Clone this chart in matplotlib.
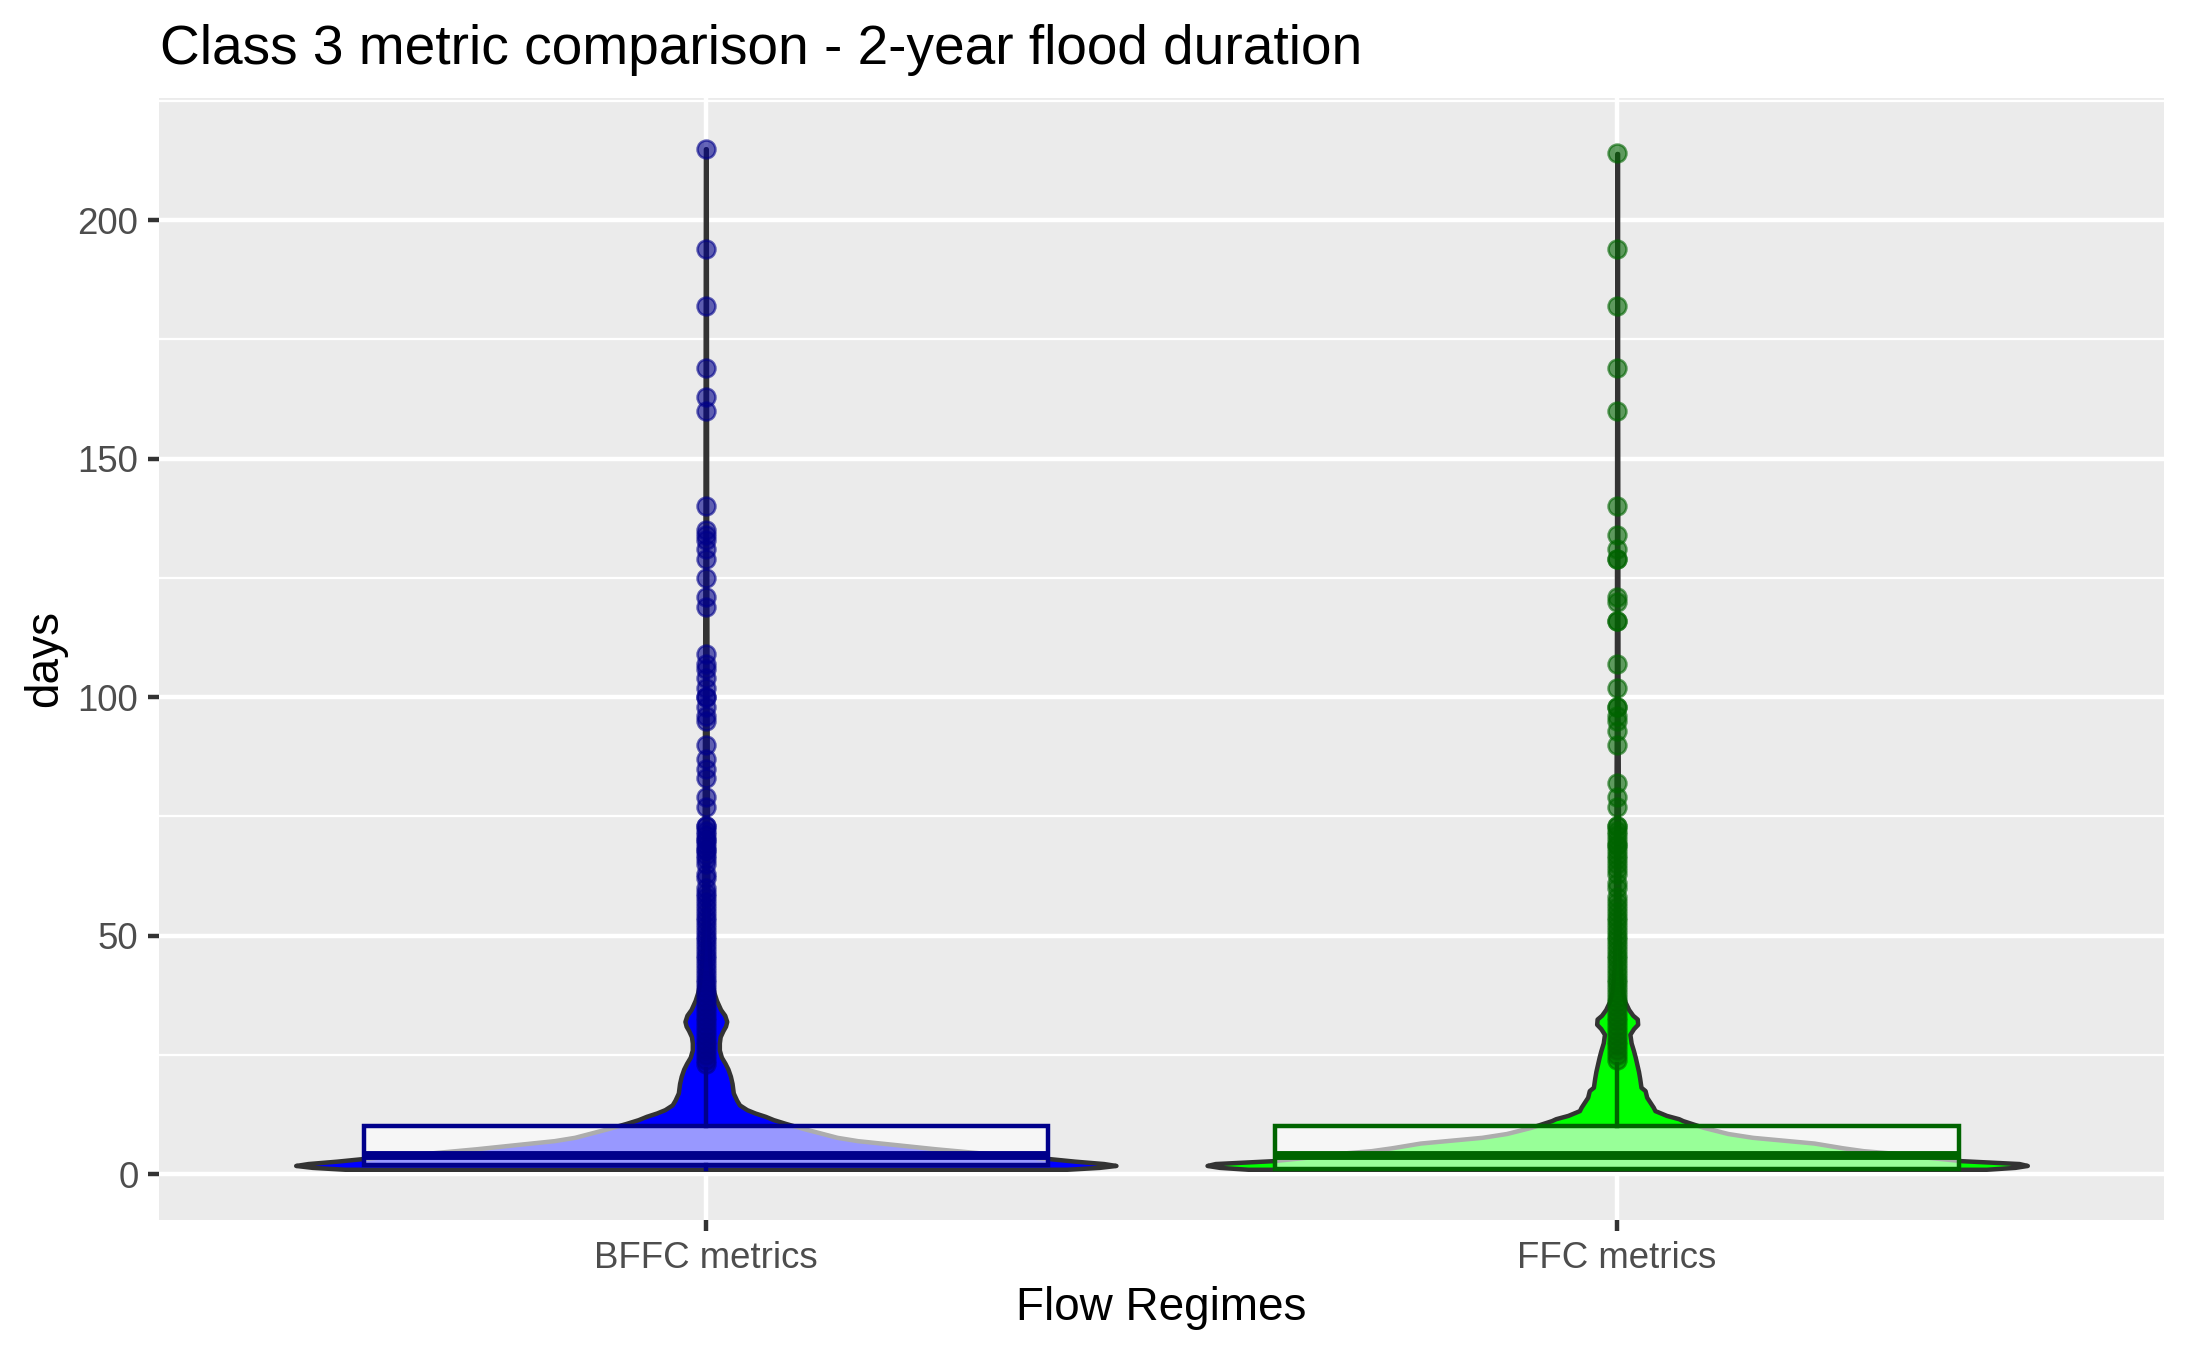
import matplotlib

matplotlib.use("Agg")
import matplotlib.pyplot as plt

plt.rcParams["font.family"] = ["Liberation Sans", "DejaVu Sans"]

# categories and styling per group
groups = ["BFFC metrics", "FFC metrics"]
violin_fill = ["#0000FF", "#00FF00"]
box_color = ["#00008B", "#006400"]

# violin outline: days and relative density (max = 1)
bffc_density_days = [1, 1.4, 1.8, 2.2, 2.7, 3.3, 4.2, 5.3, 6.2, 7.0, 7.7, 8.6, 9.5, 10.6,
                     11.4, 12.1, 12.8, 13.5, 14.5, 15.5, 17, 19, 20.5, 22, 23.2, 24.5, 26,
                     27.5, 28.8, 30.1, 31, 32, 33.3, 34.5, 36.4, 38, 40, 44, 50, 60, 75,
                     100, 140, 180, 215]
bffc_density = [0.88, 0.96, 1.0, 0.97, 0.9, 0.83, 0.7, 0.56, 0.46, 0.37, 0.32, 0.28, 0.24,
                0.195, 0.165, 0.145, 0.12, 0.1, 0.082, 0.075, 0.067, 0.064, 0.06, 0.054,
                0.047, 0.038, 0.033, 0.033, 0.035, 0.042, 0.048, 0.051, 0.046, 0.036,
                0.026, 0.02, 0.015, 0.01, 0.007, 0.005, 0.004, 0.003, 0.002, 0.0015, 0.001]

ffc_density_days = [1, 1.4, 1.8, 2.2, 2.8, 3.5, 4.4, 4.9, 5.5, 6.5, 7.7, 8.5, 9.8, 11.2,
                    11.6, 12.3, 13.3, 14, 16.1, 17.5, 18.2, 20, 21.5, 23, 24.5, 25.8, 27.5,
                    29.3, 30.5, 31.4, 32.5, 33.3, 34.5, 36.3, 38, 40, 44, 50, 60, 75, 100,
                    140, 180, 214]
ffc_density = [0.9, 0.97, 1.0, 0.98, 0.84, 0.76, 0.67, 0.6, 0.55, 0.48, 0.33, 0.27, 0.21,
               0.16, 0.15, 0.12, 0.092, 0.088, 0.072, 0.068, 0.058, 0.055, 0.052, 0.048,
               0.044, 0.04, 0.034, 0.031, 0.04, 0.05, 0.049, 0.038, 0.028, 0.018, 0.013,
               0.01, 0.007, 0.005, 0.004, 0.003, 0.002, 0.0015, 0.001, 0.001]

# boxplot summaries
bffc_box = {"whislo": 1, "q1": 2, "med": 4, "q3": 10, "whishi": 22}
ffc_box = {"whislo": 1, "q1": 1, "med": 4, "q3": 10, "whishi": 23}

bffc_outliers = [215, 194, 182, 169, 163, 160, 140, 135, 134, 133, 131, 129, 125, 121, 119,
                 109, 107, 106, 104, 102, 100, 100, 98, 96, 95, 90, 87, 85, 83, 79, 77,
                 73, 73, 72, 71, 70, 70, 69, 68, 68, 67, 66, 65, 63, 62, 60, 59, 58, 57,
                 56, 55, 54, 53, 52, 51, 50, 49, 48, 47, 46, 45, 44, 43, 42, 41, 40, 39,
                 38, 37, 36, 35, 34, 33, 32, 31, 30, 29, 28, 27, 26, 25, 24, 23]
ffc_outliers = [214, 194, 182, 169, 160, 140, 134, 131, 129, 129, 121, 120, 116, 116, 107,
                102, 98, 98, 96, 95, 93, 90, 82, 79, 77, 73, 73, 72, 71, 70, 69, 69, 68,
                67, 66, 65, 64, 63, 61, 60, 58, 57, 56, 55, 54, 53, 52, 51, 50, 49, 48,
                47, 46, 45, 44, 43, 42, 41, 40, 39, 38, 37, 36, 35, 34, 33, 32, 31, 30,
                29, 28, 27, 26, 25, 24]

title = "Class 3 metric comparison - 2-year flood duration"
x_title = "Flow Regimes"
y_title = "days"

LW = 0.5 * 72.27 / 25.4 * 0.75  # ggplot linewidth 0.5 in points

W, H, DPI = 2187, 1351, 300
fig = plt.figure(figsize=(W / DPI, H / DPI), dpi=DPI)
left, right, top, bottom = 159 / W, 2164 / W, 1 - 97.7 / H, 1 - 1220.3 / H
ax = fig.add_axes([left, bottom, right - left, top - bottom])

densities = [(bffc_density_days, bffc_density), (ffc_density_days, ffc_density)]
boxes = [(bffc_box, bffc_outliers), (ffc_box, ffc_outliers)]
dmax = max(max(d) for _, d in densities)

for i, ((days, dens), (stats, fliers)) in enumerate(zip(densities, boxes)):
    pos = i + 1
    half = [0.45 * d / dmax for d in dens]
    ax.fill_betweenx(days, [pos - h for h in half], [pos + h for h in half],
                     facecolor=violin_fill[i], edgecolor="#333333", linewidth=LW,
                     joinstyle="round", zorder=2)
    st = dict(stats)
    st["fliers"] = fliers
    ax.bxp([st], positions=[pos], widths=0.75, patch_artist=True, showcaps=False,
           manage_ticks=False, zorder=3,
           boxprops=dict(facecolor=(1, 1, 1, 0.6), edgecolor=box_color[i], linewidth=LW),
           medianprops=dict(color=box_color[i], linewidth=2 * LW, solid_capstyle="butt"),
           whiskerprops=dict(color=box_color[i], linewidth=LW),
           flierprops=dict(marker="o", markerfacecolor=box_color[i],
                           markeredgecolor=box_color[i], markersize=4.3,
                           markeredgewidth=0.6, alpha=0.6, linestyle="none"))

all_vals = bffc_density_days + ffc_density_days + bffc_outliers + ffc_outliers
lo, hi = min(all_vals), max(all_vals)
pad = 0.05 * (hi - lo)
ax.set_ylim(lo - pad, hi + pad)
ax.set_xlim(0.4, 2.6)

ax.set_facecolor("#EBEBEB")
for s in ax.spines.values():
    s.set_visible(False)
ax.set_axisbelow(True)
ax.set_xticks([1, 2])
ax.set_xticklabels(groups)
ax.set_yticks([0, 50, 100, 150, 200])
ax.set_yticks([25, 75, 125, 175, 225], minor=True)
ax.grid(which="major", color="white", linewidth=LW)
ax.grid(which="minor", axis="y", color="white", linewidth=LW / 2)
ax.tick_params(which="major", length=2.75, width=LW, color="#333333",
               labelcolor="#4D4D4D", labelsize=8.8, pad=2.2)
ax.tick_params(which="minor", length=0)

fig.text(160 / W, 1 - 64 / H, title, fontsize=13.2, ha="left", va="baseline")
fig.text((left + right) / 2, 1 - 1320 / H, x_title, fontsize=11, ha="center", va="baseline")
fig.text(45 / W, (top + bottom) / 2, y_title, fontsize=11, rotation=90,
         ha="center", va="center")

fig.savefig("out.png", dpi=DPI)
plt.close(fig)
